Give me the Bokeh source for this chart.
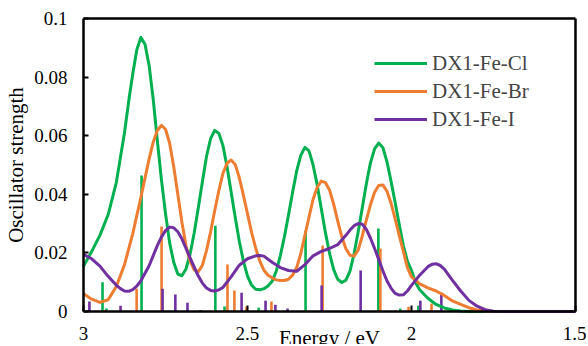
from bokeh.plotting import figure
from bokeh.models import (ColumnDataSource, Legend, LegendItem, FixedTicker,
                          Range1d, LinearAxis)
from bokeh.embed import file_html
from bokeh.resources import INLINE

# ---------------- data ----------------
cl_energy = [3.000, 2.975, 2.950, 2.925, 2.900, 2.875, 2.8625, 2.850, 2.8375, 2.825,
             2.8125, 2.800, 2.7875, 2.775, 2.7625, 2.750, 2.7375, 2.725, 2.7125, 2.700,
             2.6875, 2.675, 2.6625, 2.650, 2.6375, 2.625, 2.6125, 2.600, 2.5875, 2.575,
             2.5625, 2.550, 2.5375, 2.525, 2.5125, 2.500, 2.4875, 2.475, 2.4625, 2.450,
             2.4375, 2.425, 2.4125, 2.400, 2.3875, 2.375, 2.3625, 2.350, 2.3375, 2.325,
             2.3125, 2.300, 2.2875, 2.275, 2.2625, 2.250, 2.2375, 2.225, 2.2125, 2.200,
             2.1875, 2.175, 2.1625, 2.150, 2.1375, 2.125, 2.1125, 2.100, 2.0875, 2.075,
             2.0625, 2.050, 2.0375, 2.025, 2.0125, 2.000, 1.9875, 1.975, 1.950, 1.925,
             1.900, 1.875, 1.850, 1.825, 1.800, 1.750, 1.700, 1.600, 1.500]
cl_curve = [0.0154, 0.0205, 0.0260, 0.0330, 0.0440, 0.0610, 0.0715, 0.0810, 0.0893, 0.0935,
            0.0912, 0.0840, 0.0725, 0.0585, 0.0450, 0.0335, 0.0235, 0.0168, 0.0128, 0.0122,
            0.0145, 0.0196, 0.0268, 0.0354, 0.0443, 0.0529, 0.0590, 0.0618, 0.0608, 0.0567,
            0.0495, 0.0409, 0.0322, 0.0240, 0.0172, 0.0121, 0.0090, 0.0076, 0.0074, 0.0078,
            0.0087, 0.0103, 0.0137, 0.0190, 0.0255, 0.0329, 0.0407, 0.0480, 0.0533, 0.0560,
            0.0548, 0.0500, 0.0432, 0.0351, 0.0270, 0.0199, 0.0144, 0.0110, 0.0099, 0.0107,
            0.0138, 0.0198, 0.0272, 0.0354, 0.0437, 0.0508, 0.0555, 0.0575, 0.0560, 0.0512,
            0.0445, 0.0373, 0.0298, 0.0226, 0.0172, 0.0140, 0.0098, 0.0074, 0.0045, 0.0024,
            0.0012, 0.0005, 0.0002, 0.0000, 0.0000, 0.0000, 0.0000, 0.0000, 0.0000]

br_energy = [3.000, 2.975, 2.950, 2.925, 2.900, 2.875, 2.850, 2.825, 2.8125, 2.800,
             2.7875, 2.775, 2.7625, 2.750, 2.7375, 2.725, 2.7125, 2.700, 2.6875, 2.675,
             2.6625, 2.650, 2.6375, 2.625, 2.6125, 2.600, 2.5875, 2.575, 2.5625, 2.550,
             2.5375, 2.525, 2.5125, 2.500, 2.4875, 2.475, 2.4625, 2.450, 2.4375, 2.425,
             2.4125, 2.400, 2.3875, 2.375, 2.3625, 2.350, 2.3375, 2.325, 2.3125, 2.300,
             2.2875, 2.275, 2.2625, 2.250, 2.2375, 2.225, 2.2125, 2.200, 2.1875, 2.175,
             2.1625, 2.150, 2.1375, 2.125, 2.1125, 2.100, 2.0875, 2.075, 2.0625, 2.050,
             2.0375, 2.025, 2.0125, 2.000, 1.975, 1.950, 1.925, 1.900, 1.875, 1.850,
             1.825, 1.800, 1.775, 1.750, 1.700, 1.600, 1.500]
br_curve = [0.0061, 0.0042, 0.0031, 0.0040, 0.0085, 0.0160, 0.0265, 0.0390, 0.0455, 0.0520,
            0.0578, 0.0618, 0.0635, 0.0622, 0.0575, 0.0495, 0.0400, 0.0305, 0.0225, 0.0172,
            0.0142, 0.0136, 0.0158, 0.0208, 0.0272, 0.0344, 0.0412, 0.0471, 0.0506, 0.0517,
            0.0502, 0.0457, 0.0397, 0.0333, 0.0270, 0.0216, 0.0172, 0.0141, 0.0124, 0.0115,
            0.0108, 0.0106, 0.0106, 0.0110, 0.0124, 0.0150, 0.0198, 0.0260, 0.0322, 0.0383,
            0.0424, 0.0445, 0.0440, 0.0415, 0.0367, 0.0309, 0.0255, 0.0214, 0.0192, 0.0189,
            0.0210, 0.0258, 0.0313, 0.0365, 0.0407, 0.0430, 0.0432, 0.0411, 0.0370, 0.0317,
            0.0260, 0.0206, 0.0150, 0.0118, 0.0094, 0.0081, 0.0070, 0.0055, 0.0036, 0.0024,
            0.0013, 0.0005, 0.0002, 0.0000, 0.0000, 0.0000, 0.0000]

i_energy = [3.000, 2.975, 2.950, 2.925, 2.900, 2.8875, 2.875, 2.8625, 2.850, 2.8375,
            2.825, 2.800, 2.775, 2.7625, 2.750, 2.7375, 2.725, 2.7125, 2.700, 2.675,
            2.650, 2.6375, 2.625, 2.6125, 2.600, 2.5875, 2.575, 2.550, 2.525, 2.500,
            2.475, 2.4625, 2.450, 2.425, 2.400, 2.375, 2.350, 2.325, 2.300, 2.275,
            2.250, 2.225, 2.200, 2.1875, 2.175, 2.1625, 2.150, 2.1375, 2.125, 2.1125,
            2.100, 2.0875, 2.075, 2.0625, 2.050, 2.0375, 2.025, 2.0125, 2.000, 1.975,
            1.950, 1.9375, 1.925, 1.9125, 1.900, 1.875, 1.850, 1.825, 1.800, 1.775,
            1.750, 1.700, 1.600, 1.500]
i_curve = [0.0195, 0.0180, 0.0155, 0.0120, 0.0090, 0.0078, 0.0070, 0.0069, 0.0075, 0.0087,
           0.0105, 0.0156, 0.0225, 0.0254, 0.0276, 0.0288, 0.0286, 0.0272, 0.0248, 0.0183,
           0.0121, 0.0097, 0.0080, 0.0072, 0.0070, 0.0074, 0.0082, 0.0118, 0.0158, 0.0180,
           0.0190, 0.0191, 0.0189, 0.0168, 0.0150, 0.0140, 0.0137, 0.0160, 0.0190, 0.0205,
           0.0215, 0.0228, 0.0260, 0.0278, 0.0293, 0.0300, 0.0298, 0.0280, 0.0250, 0.0215,
           0.0178, 0.0140, 0.0105, 0.0080, 0.0062, 0.0056, 0.0057, 0.0070, 0.0089, 0.0124,
           0.0153, 0.0161, 0.0163, 0.0157, 0.0145, 0.0106, 0.0070, 0.0038, 0.0018, 0.0006,
           0.0001, 0.0000, 0.0000, 0.0000]

cl_stick_e = [2.942, 2.930, 2.823, 2.598, 2.570, 2.466, 2.323, 2.101, 2.034, 1.979]
cl_stick_f = [0.0100, 0.0010, 0.0464, 0.0293, 0.0017, 0.0013, 0.0276, 0.0283, 0.0010, 0.0020]

br_stick_e = [2.933, 2.838, 2.762, 2.561, 2.540, 2.503, 2.427, 2.271, 2.095, 2.049, 2.009, 1.939]
br_stick_f = [0.0005, 0.0078, 0.0290, 0.0160, 0.0072, 0.0017, 0.0034, 0.0225, 0.0215, 0.0003, 0.0016, 0.0027]

i_stick_e = [2.982, 2.887, 2.759, 2.720, 2.683, 2.643, 2.518, 2.445, 2.415, 2.378, 2.274, 2.155, 1.973, 1.909]
i_stick_f = [0.0034, 0.0020, 0.0078, 0.0058, 0.0030, 0.0005, 0.0064, 0.0037, 0.0023, 0.0010, 0.0089, 0.0140, 0.0037, 0.0060]

series_names = ["DX1-Fe-Cl", "DX1-Fe-Br", "DX1-Fe-I"]
series_colors = ["#00B050", "#ED7D31", "#7030A0"]

x_ticks = [3, 2.5, 2, 1.5]
x_tick_labels = ["3", "2.5", "2", "1.5"]
y_ticks = [0, 0.02, 0.04, 0.06, 0.08, 0.1]
y_tick_labels = ["0", "0.02", "0.04", "0.06", "0.08", "0.1"]

x_title = "Energy / eV"
y_title = "Oscillator strength"

FONT = "Liberation Serif"

# ---------------- figure ----------------
# The frame fills the whole canvas; the axes are pinned at the data edges
# (x = 3, y = 0, ...) so that their labels and titles are drawn around them.
p = figure(width=586, height=344, output_backend="svg", toolbar_location=None,
           x_range=Range1d(3.25305, 1.46646), y_range=Range1d(-0.01126, 0.10614),
           min_border_left=0, min_border_right=0, min_border_top=0, min_border_bottom=0)

p.xgrid.visible = False
p.ygrid.visible = False
p.outline_line_color = None
p.background_fill_color = "white"
p.border_fill_color = "white"

xa = p.xaxis[0]
xa.fixed_location = 0
xa.bounds = (1.5, 3)
xa.ticker = FixedTicker(ticks=x_ticks)
xa.major_label_overrides = dict(zip(x_ticks, x_tick_labels))
xa.major_label_text_font = FONT
xa.major_label_text_font_size = "19px"
xa.major_label_text_color = "black"
xa.major_label_standoff = 15
xa.major_tick_in = 6
xa.major_tick_out = 0
xa.major_tick_line_width = 2
xa.minor_tick_line_color = None
xa.axis_line_width = 2.5
xa.axis_label = x_title
xa.axis_label_text_font = FONT
xa.axis_label_text_font_size = "21px"
xa.axis_label_text_font_style = "normal"
xa.axis_label_text_color = "black"
xa.axis_label_standoff = -17

ya = p.yaxis[0]
ya.fixed_location = 3
ya.bounds = (0, 0.1)
ya.ticker = FixedTicker(ticks=y_ticks)
ya.major_label_overrides = dict(zip(y_ticks, y_tick_labels))
ya.major_label_text_font = FONT
ya.major_label_text_font_size = "19px"
ya.major_label_text_color = "black"
ya.major_label_standoff = 16
ya.major_tick_in = 5
ya.major_tick_out = 0
ya.major_tick_line_width = 2
ya.minor_tick_line_color = None
ya.axis_line_width = 2.5
ya.axis_label = y_title
ya.axis_label_text_font = FONT
ya.axis_label_text_font_size = "21px"
ya.axis_label_text_font_style = "normal"
ya.axis_label_text_color = "black"
ya.axis_label_standoff = 3

# plain frame lines on top and right
top_axis = LinearAxis(fixed_location=0.1, bounds=(1.5, 3), ticker=FixedTicker(ticks=[]),
                      major_tick_line_color=None, minor_tick_line_color=None,
                      major_label_standoff=0, axis_line_width=2.5, axis_line_color="black")
right_axis = LinearAxis(fixed_location=1.5, bounds=(0, 0.1), ticker=FixedTicker(ticks=[]),
                        major_tick_line_color=None, minor_tick_line_color=None,
                        major_label_standoff=0, axis_line_width=2.5, axis_line_color="black")
p.add_layout(top_axis, "above")
p.add_layout(right_axis, "right")

# sticks
for es, fs, col in [(cl_stick_e, cl_stick_f, series_colors[0]),
                    (br_stick_e, br_stick_f, series_colors[1]),
                    (i_stick_e, i_stick_f, series_colors[2])]:
    src = ColumnDataSource(dict(x=es, top=fs, bottom=[0] * len(es)))
    p.segment(x0="x", y0="bottom", x1="x", y1="top", source=src,
              line_color=col, line_width=2.6)

# curves
renderers = []
for xs, ys, col in zip([cl_energy, br_energy, i_energy],
                       [cl_curve, br_curve, i_curve], series_colors):
    r = p.line(xs, ys, line_color=col, line_width=3, line_join="round")
    renderers.append(r)

legend = Legend(items=[LegendItem(label=n, renderers=[r]) for n, r in zip(series_names, renderers)],
                location=(374, 211), border_line_color=None, background_fill_alpha=0,
                padding=0, margin=0, spacing=0, glyph_width=53, glyph_height=28,
                label_height=28, label_standoff=5,
                label_text_font=FONT, label_text_font_size="21px")
p.add_layout(legend)

open("out.html", "w").write(file_html(p, INLINE))
